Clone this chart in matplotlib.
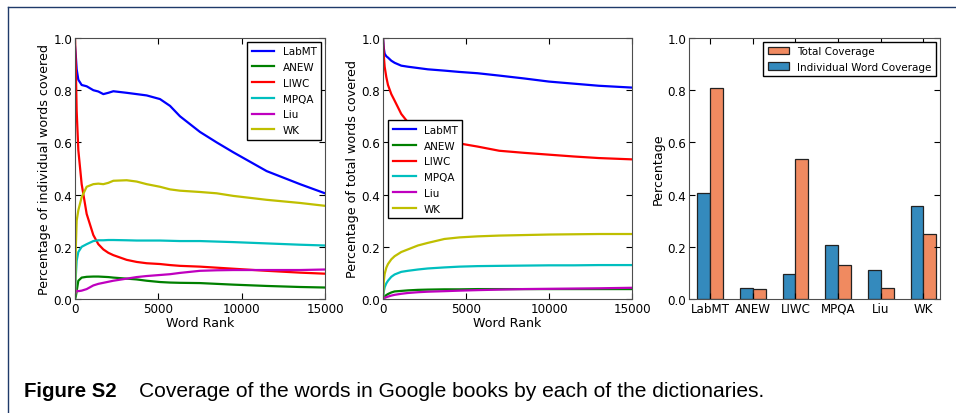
import matplotlib
matplotlib.use("Agg")
import matplotlib.pyplot as plt
from matplotlib.lines import Line2D
import numpy as np

dictionaries = ["LabMT", "ANEW", "LIWC", "MPQA", "Liu", "WK"]
line_colors = ["b", "g", "r", "c", "m", "y"]

# fraction of individual (distinct) words covered, by word rank
rank_individual = [0, 50, 100, 200, 400, 700, 1100, 1400, 1700, 2000, 2300, 3100,
                   3700, 4300, 5100, 5700, 6300, 7500, 8500, 9500, 11500, 13500, 15000]
individual = {
    "LabMT": [0.97, 0.93, 0.88, 0.84, 0.82, 0.815, 0.80, 0.795, 0.785, 0.79, 0.796, 0.79,
              0.785, 0.78, 0.766, 0.74, 0.70, 0.64, 0.60, 0.562, 0.49, 0.44, 0.405],
    "ANEW": [0.0, 0.01, 0.03, 0.07, 0.082, 0.085, 0.086, 0.086, 0.085, 0.084, 0.082, 0.078,
             0.075, 0.07, 0.065, 0.063, 0.062, 0.061, 0.058, 0.055, 0.050, 0.046, 0.044],
    "LIWC": [1.0, 0.88, 0.72, 0.57, 0.44, 0.326, 0.245, 0.21, 0.19, 0.177, 0.168, 0.15,
             0.142, 0.137, 0.134, 0.13, 0.127, 0.124, 0.12, 0.116, 0.108, 0.101, 0.097],
    "MPQA": [0.0, 0.09, 0.147, 0.18, 0.2, 0.21, 0.222, 0.225, 0.225, 0.226, 0.226, 0.225,
             0.224, 0.224, 0.224, 0.223, 0.222, 0.222, 0.22, 0.218, 0.213, 0.208, 0.205],
    "Liu": [0.02, 0.025, 0.032, 0.03, 0.032, 0.038, 0.052, 0.058, 0.062, 0.066, 0.07, 0.078,
            0.084, 0.088, 0.092, 0.095, 0.10, 0.108, 0.110, 0.111, 0.111, 0.111, 0.113],
    "WK": [0.0, 0.2, 0.30, 0.34, 0.39, 0.43, 0.44, 0.442, 0.44, 0.445, 0.453, 0.455,
           0.45, 0.44, 0.43, 0.42, 0.415, 0.41, 0.405, 0.395, 0.38, 0.368, 0.357],
}

# fraction of total word occurrences covered, by word rank
rank_total = [0, 50, 100, 200, 300, 500, 700, 1100, 1500, 2100, 2700, 3700,
              4600, 5700, 7000, 8500, 10000, 11500, 13000, 15000]
total = {
    "LabMT": [1.0, 0.96, 0.94, 0.93, 0.925, 0.913, 0.905, 0.894, 0.89, 0.885, 0.88, 0.875,
              0.87, 0.865, 0.856, 0.845, 0.833, 0.825, 0.817, 0.81],
    "ANEW": [0.0, 0.005, 0.01, 0.015, 0.019, 0.025, 0.029, 0.031, 0.033, 0.035, 0.036, 0.037,
             0.037, 0.038, 0.038, 0.038, 0.038, 0.038, 0.038, 0.038],
    "LIWC": [1.0, 0.93, 0.89, 0.85, 0.82, 0.785, 0.76, 0.709, 0.677, 0.645, 0.625, 0.605,
             0.596, 0.584, 0.568, 0.56, 0.553, 0.546, 0.54, 0.535],
    "MPQA": [0.0, 0.03, 0.045, 0.06, 0.07, 0.085, 0.094, 0.104, 0.108, 0.113, 0.117, 0.121,
             0.124, 0.126, 0.127, 0.128, 0.129, 0.129, 0.13, 0.13],
    "Liu": [0.0, 0.002, 0.004, 0.007, 0.009, 0.013, 0.016, 0.02, 0.023, 0.026, 0.028, 0.03,
            0.032, 0.034, 0.036, 0.038, 0.039, 0.04, 0.041, 0.043],
    "WK": [0.0, 0.07, 0.096, 0.12, 0.134, 0.152, 0.164, 0.18, 0.19, 0.205, 0.215, 0.23,
           0.236, 0.24, 0.243, 0.245, 0.247, 0.248, 0.249, 0.249],
}

# coverage at rank 15000, used for the bar chart
individual_coverage = [0.405, 0.044, 0.097, 0.205, 0.113, 0.357]
total_coverage = [0.81, 0.038, 0.535, 0.13, 0.043, 0.249]

plt.rcParams["font.family"] = "DejaVu Sans"
plt.rcParams["xtick.direction"] = "in"
plt.rcParams["ytick.direction"] = "in"
plt.rcParams["xtick.top"] = True
plt.rcParams["ytick.right"] = True
plt.rcParams["xtick.major.size"] = 4
plt.rcParams["ytick.major.size"] = 4
plt.rcParams["axes.edgecolor"] = "0.3"
plt.rcParams["xtick.labelsize"] = 8.6
plt.rcParams["ytick.labelsize"] = 8.6
plt.rcParams["axes.labelsize"] = 9.1

W, H = 956, 414
fig = plt.figure(figsize=(W / 100, H / 100), dpi=100)


def px_axes(left, top, right, bottom):
    return fig.add_axes([left / W, 1 - bottom / H, (right - left) / W, (bottom - top) / H])


def style_lines(ax, ylabel):
    ax.set_xlim(0, 15000)
    ax.set_ylim(0, 1)
    ax.set_xticks([0, 5000, 10000, 15000])
    ax.set_yticks(np.arange(0, 1.01, 0.2))
    ax.set_xlabel("Word Rank", labelpad=1)
    ax.set_ylabel(ylabel, labelpad=2)
    ax.tick_params(pad=2)


legend_kw = dict(fontsize=7.5, fancybox=False, edgecolor="black", framealpha=1,
                 borderpad=0.45, labelspacing=0.55)

ax1 = px_axes(75, 39, 325, 300)
for name, c in zip(dictionaries, line_colors):
    ax1.plot(rank_individual, individual[name], color=c, lw=1.6, label=name)
style_lines(ax1, "Percentage of individual words covered")
ax1.legend(loc="upper right", handlelength=2.2, borderaxespad=0.35, **legend_kw)

ax2 = px_axes(383, 39, 632, 300)
for name, c in zip(dictionaries, line_colors):
    ax2.plot(rank_total, total[name], color=c, lw=1.6, label=name)
style_lines(ax2, "Percentage of total words covered")
ax2.legend(loc="upper left", bbox_to_anchor=(0.02, 0.685), handlelength=2.2,
           borderaxespad=0, **legend_kw)

ax3 = px_axes(689, 39, 940, 300)
ind = np.arange(len(dictionaries))
width = 0.3
ax3.bar(ind, individual_coverage, width, align="edge", color="#348ABD",
        edgecolor="#222222", lw=0.9, label="Individual Word Coverage")
ax3.bar(ind + width, total_coverage, width, align="edge", color="#F08A60",
        edgecolor="#222222", lw=0.9, label="Total Coverage")
ax3.set_xlim(-0.195, 5.69)
ax3.set_ylim(0, 1)
ax3.set_xticks(ind + width)
ax3.set_xticklabels(dictionaries)
ax3.set_yticks(np.arange(0, 1.01, 0.2))
ax3.set_ylabel("Percentage", labelpad=2)
ax3.tick_params(pad=2)
handles, labels = ax3.get_legend_handles_labels()
ax3.legend(handles[::-1], labels[::-1], loc="upper right", handlelength=2.0,
           borderaxespad=0.35, fontsize=7.5, fancybox=False, edgecolor="black",
           framealpha=1, borderpad=0.45, labelspacing=0.5)

# page frame and caption
navy = "#1f3a6a"
fig.add_artist(Line2D([7.5 / W, 1], [1 - 8 / H, 1 - 8 / H], color=navy, lw=1))
fig.add_artist(Line2D([7.5 / W, 7.5 / W], [0, 1 - 8 / H], color=navy, lw=1))
fig.text(24 / W, 1 - 392 / H, "Figure S2", fontsize=14.7, fontweight="bold",
         family="Liberation Sans", va="center")
fig.text(139 / W, 1 - 392 / H,
         "Coverage of the words in Google books by each of the dictionaries.",
         fontsize=15.1, family="Liberation Sans", va="center")

fig.savefig("out.png", dpi=100)
